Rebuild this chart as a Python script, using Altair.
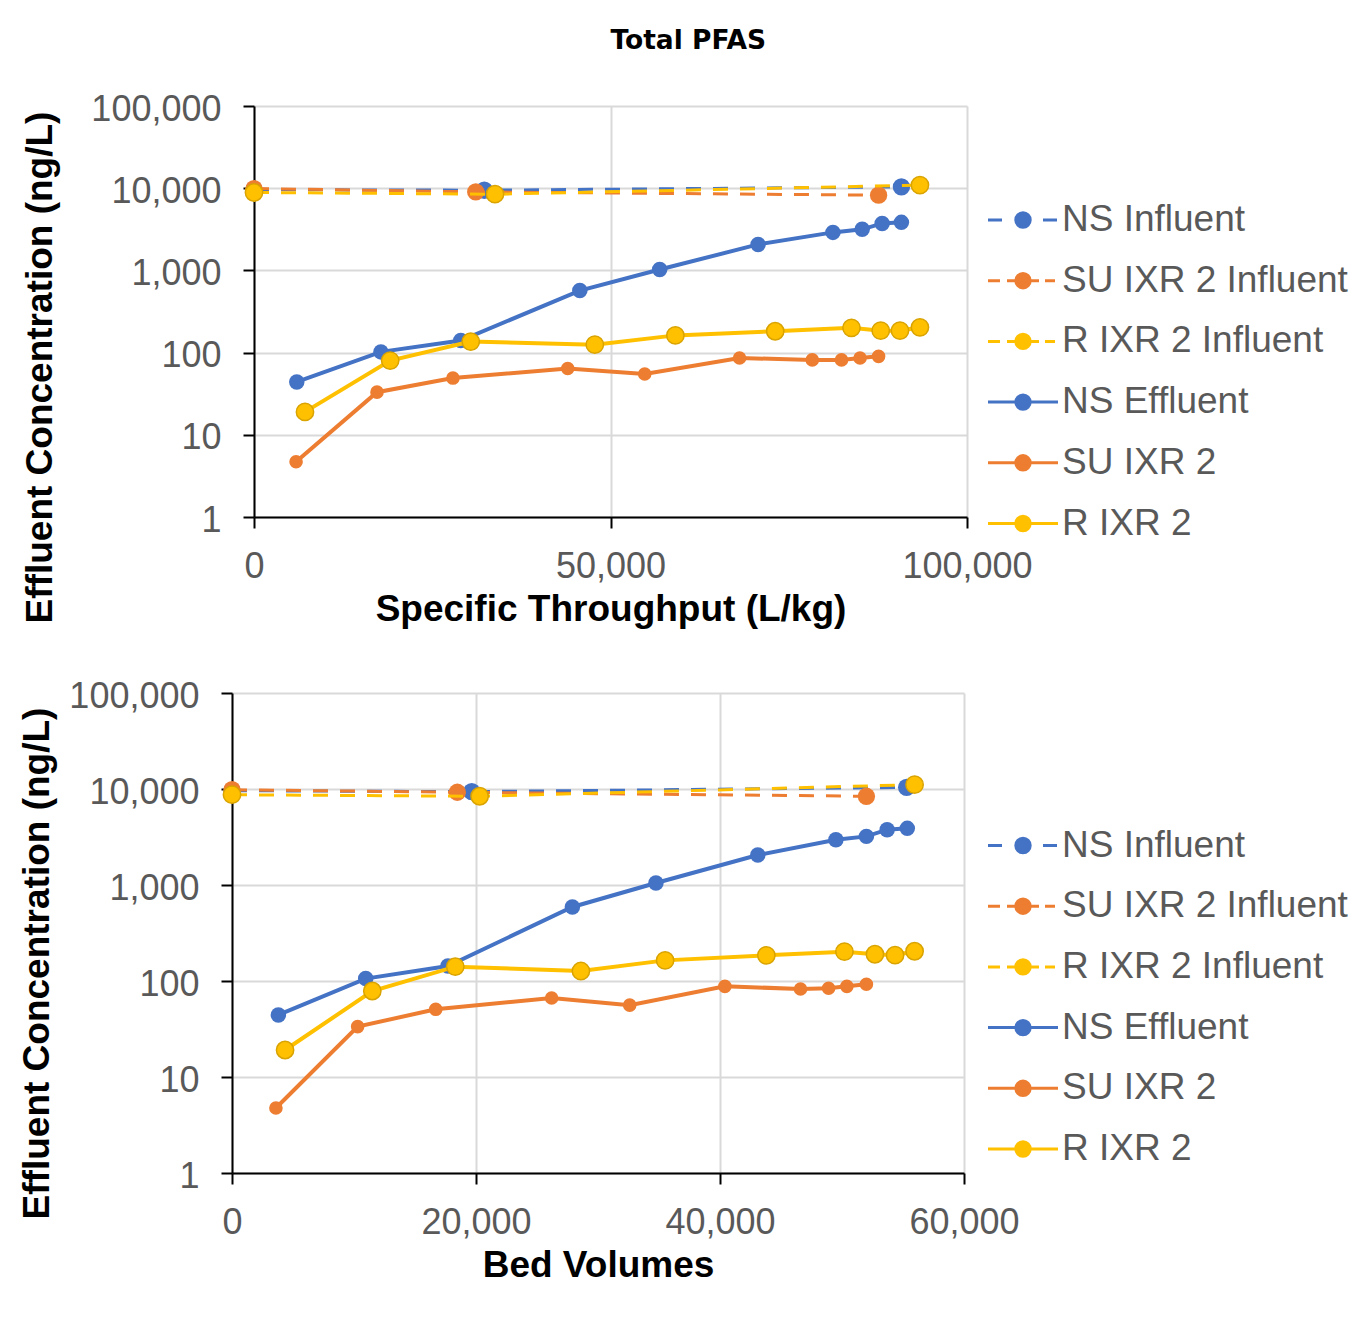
import altair as alt
import pandas as pd

SERIES = ["NS Influent", "SU IXR 2 Influent", "R IXR 2 Influent",
          "NS Effluent", "SU IXR 2", "R IXR 2"]
COLORS = ["#4472C4", "#ED7D31", "#FFC000", "#4472C4", "#ED7D31", "#FFC000"]

# ---- Top panel: Specific Throughput (L/kg) ----
top_ns_inf_x = [0, 32300, 90800]
top_ns_inf_y = [9600, 9450, 10370]
top_su_inf_x = [0, 31100, 87600]
top_su_inf_y = [9900, 9020, 8220]
top_r_inf_x = [0, 33800, 93400]
top_r_inf_y = [8870, 8450, 10900]
top_ns_eff_x = [6000, 17800, 29000, 45700, 56900, 70700, 81200, 85300, 88100, 90800]
top_ns_eff_y = [44, 102, 140, 568, 1025, 2070, 2900, 3160, 3730, 3840]
top_su_eff_x = [5900, 17250, 27900, 44000, 54800, 68100, 78300, 82400, 85000, 87600]
top_su_eff_y = [4.7, 33, 49, 64, 55, 86, 81.5, 81.5, 86, 90]
top_r_eff_x = [7150, 19100, 30400, 47800, 59100, 73100, 83800, 87900, 90600, 93400]
top_r_eff_y = [19, 80, 136, 125, 162, 182, 200, 185, 185, 203]

# ---- Bottom panel: Bed Volumes ----
bot_ns_inf_x = [0, 19650, 55300]
bot_ns_inf_y = [9600, 9380, 10400]
bot_su_inf_x = [0, 18470, 52000]
bot_su_inf_y = [9830, 9250, 8400]
bot_r_inf_x = [0, 20300, 55950]
bot_r_inf_y = [8720, 8400, 11100]
bot_ns_eff_x = [3800, 10960, 17700, 27900, 34750, 43100, 49500, 52000, 53700, 55350]
bot_ns_eff_y = [44.3, 106, 143, 590, 1050, 2050, 2960, 3210, 3770, 3890]
bot_su_eff_x = [3600, 10300, 16700, 26200, 32600, 40400, 46600, 48900, 50400, 52000]
bot_su_eff_y = [4.75, 33.5, 50.7, 66.5, 56, 88, 82.6, 84, 88, 92.5]
bot_r_eff_x = [4350, 11500, 18300, 28600, 35500, 43800, 50200, 52700, 54350, 55950]
bot_r_eff_y = [19.1, 78.7, 141, 127, 164, 185, 202, 190, 186, 204]

TOP = [(top_ns_inf_x, top_ns_inf_y), (top_su_inf_x, top_su_inf_y), (top_r_inf_x, top_r_inf_y),
       (top_ns_eff_x, top_ns_eff_y), (top_su_eff_x, top_su_eff_y), (top_r_eff_x, top_r_eff_y)]
BOT = [(bot_ns_inf_x, bot_ns_inf_y), (bot_su_inf_x, bot_su_inf_y), (bot_r_inf_x, bot_r_inf_y),
       (bot_ns_eff_x, bot_ns_eff_y), (bot_su_eff_x, bot_su_eff_y), (bot_r_eff_x, bot_r_eff_y)]


def frame(pairs):
    rows = []
    for name, (xs, ys) in zip(SERIES, pairs):
        for xv, yv in zip(xs, ys):
            rows.append({"series": name, "x": xv, "y": yv})
    return pd.DataFrame(rows)


# legend symbols (custom paths, unit = 8 px)
CIRC = "M0.9,0A0.9,0.9,0,1,1,-0.9,0A0.9,0.9,0,1,1,0.9,0Z"
LONG_DASH = "M-4.375,0L-2.625,0M2.5,0L4.25,0" + CIRC
SHORT_DASH = "M-4.375,0L-2.875,0M-2,0L2,0M2.75,0L4,0" + CIRC
SOLID = "M-4.375,0L4.375,0" + CIRC
PATHS = [LONG_DASH, SHORT_DASH, SHORT_DASH, SOLID, SOLID, SOLID]

INFLUENT = {"NS Influent", "SU IXR 2 Influent", "R IXR 2 Influent"}
MSIZE = {"NS Influent": 300, "SU IXR 2 Influent": 300, "R IXR 2 Influent": 300,
         "NS Effluent": 240, "SU IXR 2": 185, "R IXR 2": 300}

TEXT_GRAY = "#595959"


def panel(pairs, xdom, xvals, xrange_, width, height, xtitle, ytitle_x, ytitle_y, yoffset,
          legend_x, legend_y):
    df = frame(pairs)
    if xrange_:
        xscale = alt.Scale(domain=xdom, range=xrange_, nice=False)
    else:
        xscale = alt.Scale(domain=xdom, nice=False)
    yscale = alt.Scale(type="log", domain=[1, 100000], nice=False)
    xenc = alt.X("x:Q", scale=xscale,
                 axis=alt.Axis(values=xvals, format=",.0f", title=xtitle, grid=True,
                               labelFlush=False, titleBaseline="alphabetic", titleY=103,
                               labelPadding=21))
    yenc = alt.Y("y:Q", scale=yscale,
                 axis=alt.Axis(values=[1, 10, 100, 1000, 10000, 100000], format=",",
                               title="Effluent Concentration (ng/L)", grid=True,
                               titleX=ytitle_x, titleY=ytitle_y, titleBaseline="alphabetic",
                               titleAngle=270, offset=yoffset, labelPadding=22, labelOffset=3))
    layers = []
    for name, col in zip(SERIES, COLORS):
        sub = alt.Chart(df).transform_filter(alt.datum.series == name)
        if name in INFLUENT:
            line = sub.mark_line(color=col, strokeWidth=3, strokeDash=[15, 12])
        else:
            line = sub.mark_line(color=col, strokeWidth=4)
        layers.append(line.encode(x=xenc, y=yenc))
        pkw = dict(filled=True, size=MSIZE[name], opacity=1, color=col)
        if name.startswith("R IXR"):
            pkw.update(stroke="#D9A300", strokeWidth=1.5)
        layers.append(sub.mark_point(**pkw).encode(x=xenc, y=yenc))
    leg = alt.Legend(title=None, orient="none", legendX=legend_x, legendY=legend_y,
                     labelFont="Liberation Sans", labelFontSize=37, labelColor=TEXT_GRAY,
                     labelLimit=500, labelOffset=20.5, rowPadding=22.7, padding=0,
                     symbolSize=256, symbolStrokeWidth=3, symbolOpacity=1)
    layers.append(alt.Chart(df).mark_point(filled=True, opacity=0).encode(
        x=xenc, y=yenc,
        fill=alt.Fill("series:N", scale=alt.Scale(domain=SERIES, range=COLORS), legend=leg),
        stroke=alt.Stroke("series:N", scale=alt.Scale(domain=SERIES, range=COLORS), legend=leg),
        shape=alt.Shape("series:N", scale=alt.Scale(domain=SERIES, range=PATHS), legend=leg),
    ))
    return alt.layer(*layers).properties(width=width, height=height)


top = panel(TOP, [0, 100000], [0, 50000, 100000], [22, 735], 735, 411,
            "Specific Throughput (L/kg)", -203, 261, -22, 772.5, 95.5)
bottom = panel(BOT, [0, 60000], [0, 20000, 40000, 60000], None, 732, 480,
               "Bed Volumes", -184, 270, 0, 772.5, 134)

chart = alt.vconcat(top, bottom, spacing=51).resolve_scale(
    fill="independent", stroke="independent", shape="independent"
).properties(
    title=alt.Title("Total PFAS", font="DejaVu Sans", fontSize=26.5, fontWeight="bold",
                    color="black", anchor="middle", offset=37, dx=5),
    padding={"left": 10, "top": 19, "right": 5, "bottom": 5},
).configure_view(stroke=None).configure_axis(
    domainColor="black", domainWidth=2, tickColor="black", tickWidth=2, tickSize=11,
    gridColor="#d9d9d9", gridWidth=2,
    labelFont="Liberation Sans", labelFontSize=36, labelColor=TEXT_GRAY,
    titleFont="Liberation Sans", titleFontSize=37, titleFontWeight="bold", titleColor="black",
)

chart.save("out.html", embed_options={"renderer": "svg", "actions": False})
